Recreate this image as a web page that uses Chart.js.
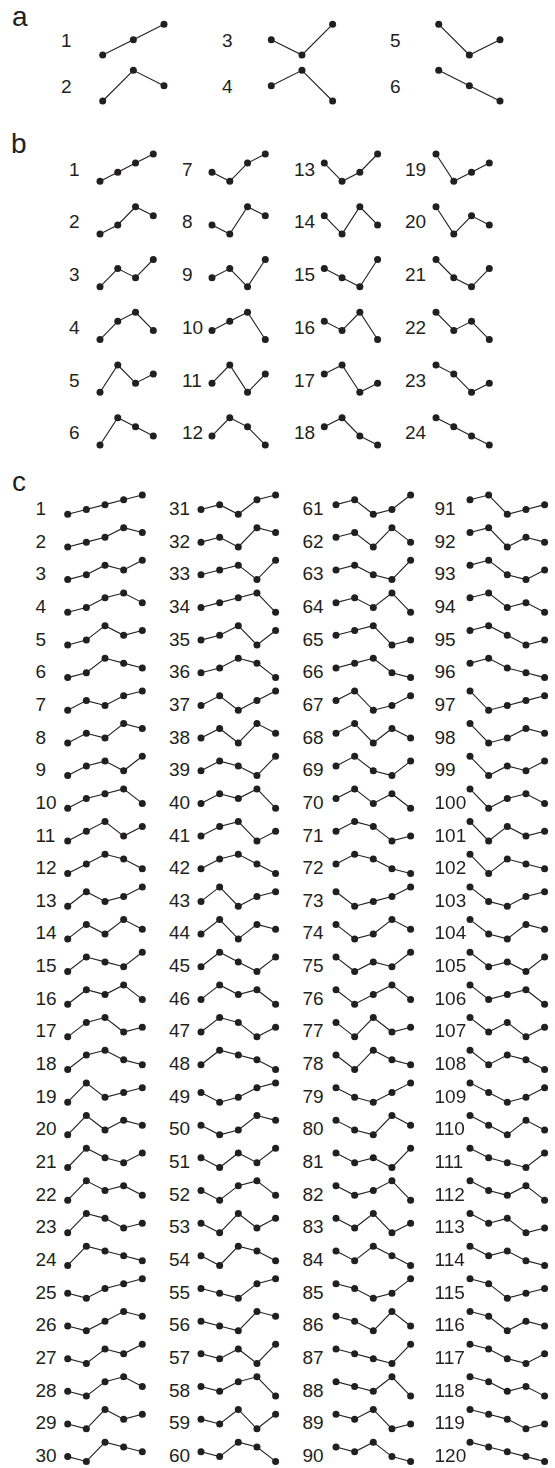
<!DOCTYPE html>
<html><head><meta charset="utf-8">
<script src="https://cdn.jsdelivr.net/npm/chart.js@4.4.0/dist/chart.umd.min.js"></script>
<style>
html,body{margin:0;padding:0;background:#fff;}
#wrap{position:relative;width:555px;height:1468px;overflow:hidden;font-family:"Liberation Sans",Arial,sans-serif;color:#231f20;}
.lbl{position:absolute;font-size:19px;line-height:19px;white-space:nowrap;}
.pl{position:absolute;font-size:28px;line-height:28px;}
canvas{position:absolute;}
</style></head><body><div id="wrap"></div>
<script>
// ---- DATA: rank patterns (higher number = higher point) ----
const panelALetter = "a";
const panelBLetter = "b";
const panelCLetter = "c";
const panelAPerms = ["123","132","213","231","312","321"];
const panelBPerms = ["1234","1243","1324","1342","1423","1432",
  "2134","2143","2314","2341","2413","2431",
  "3124","3142","3214","3241","3412","3421",
  "4123","4132","4213","4231","4312","4321"];
const panelCPerms = [
  "12345","12354","12435","12453","12534","12543","13245","13254","13425","13452",
  "13524","13542","14235","14253","14325","14352","14523","14532","15234","15243",
  "15324","15342","15423","15432","21345","21354","21435","21453","21534","21543",
  "23145","23154","23415","23451","23514","23541","24135","24153","24315","24351",
  "24513","24531","25134","25143","25314","25341","25413","25431","31245","31254",
  "31425","31452","31524","31542","32145","32154","32415","32451","32514","32541",
  "34125","34152","34215","34251","34512","34521","35124","35142","35214","35241",
  "35412","35421","41235","41253","41325","41352","41523","41532","42135","42153",
  "42315","42351","42513","42531","43125","43152","43215","43251","43512","43521",
  "45123","45132","45213","45231","45312","45321","51234","51243","51324","51342",
  "51423","51432","52134","52143","52314","52341","52413","52431","53124","53142",
  "53214","53241","53412","53421","54123","54132","54213","54231","54312","54321"];

// ---- LAYOUT ----
const INK = "#231f20";
const layouts = [
  {letter: panelALetter, perms: panelAPerms, rows: 2, letterPos: [12, 3],
   colX: [102.7, 271.3, 438.7], top0: 24.3, rowStep: 46, w: 61.3, h: 30.7,
   labelLeft: [61, 222, 390], labelDy: 15.7},
  {letter: panelBLetter, perms: panelBPerms, rows: 6, letterPos: [11, 130.3],
   colX: [100, 212, 324.3, 436], top0: 154, rowStep: 52.75, w: 53.3, h: 27.3,
   labelLeft: [69, 182, 294, 405], labelDy: 14.8},
  {letter: panelCLetter, perms: panelCPerms, rows: 30, letterPos: [12, 468],
   colX: [67.7, 201, 336, 470], top0: 495, rowStep: 32.66, w: 74.6, h: 19.3,
   labelLeft: [35.5, 169, 302.5, 434.5], labelDy: 13.2}
];

const wrap = document.getElementById("wrap");
const P = 6;

function addText(cls, txt, left, top) {
  const d = document.createElement("div");
  d.className = cls; d.textContent = txt;
  d.style.left = left + "px"; d.style.top = top + "px";
  wrap.appendChild(d);
}

function makeGlyph(perm, x0, y0, w, h) {
  const vals = perm.split("").map(Number);
  const n = vals.length;
  const cl = Math.floor(x0) - P, ct = Math.floor(y0) - P;
  const cw = Math.ceil(x0 + w) + P - cl, ch = Math.ceil(y0 + h) + P - ct;
  const cv = document.createElement("canvas");
  cv.width = cw; cv.height = ch;
  cv.style.left = cl + "px"; cv.style.top = ct + "px";
  cv.style.width = cw + "px"; cv.style.height = ch + "px";
  wrap.appendChild(cv);
  const padL = x0 - cl, padT = y0 - ct;
  new Chart(cv, {
    type: "line",
    data: {
      labels: vals.map((_, i) => String(i + 1)),
      datasets: [{
        data: vals,
        borderColor: INK, borderWidth: 1.1, tension: 0,
        pointRadius: 3.5, pointBackgroundColor: INK, pointBorderWidth: 0,
        clip: false, fill: false
      }]
    },
    options: {
      responsive: false, animation: false, devicePixelRatio: 1, events: [],
      layout: {padding: {left: padL, top: padT, right: cw - padL - w, bottom: ch - padT - h}},
      plugins: {legend: {display: false}, tooltip: {enabled: false}, title: {display: false}},
      scales: {
        x: {type: "category", display: false, offset: false},
        y: {type: "linear", display: false, min: 1, max: n}
      }
    }
  });
}

layouts.forEach(L => {
  addText("pl", L.letter, L.letterPos[0], L.letterPos[1]);
  L.perms.forEach((perm, i) => {
    const col = Math.floor(i / L.rows), row = i % L.rows;
    const x0 = L.colX[col], y0 = L.top0 + row * L.rowStep;
    makeGlyph(perm, x0, y0, L.w, L.h);
    addText("lbl", String(i + 1), L.labelLeft[col], y0 + L.labelDy - 9.3);
  });
});
</script></body></html>
